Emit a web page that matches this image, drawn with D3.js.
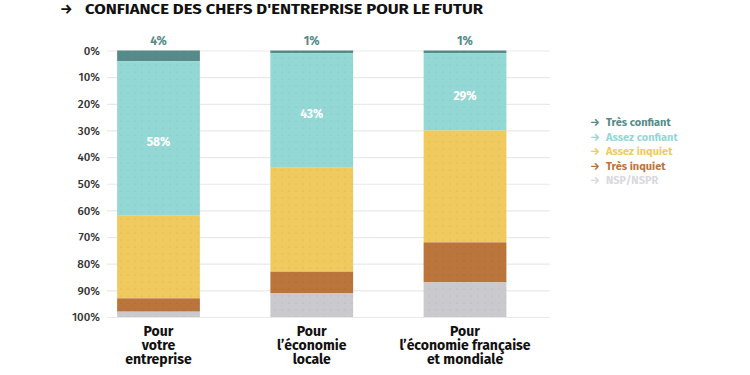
<!DOCTYPE html>
<html><head><meta charset="utf-8">
<script src="https://cdn.jsdelivr.net/npm/d3@7"></script>
<style>body{margin:0;background:#fff}svg{display:block}</style>
</head><body>
<svg id="c" width="750" height="375"></svg>
<script>
const categories = [["Pour","votre","entreprise"],["Pour","l’économie","locale"],["Pour","l’économie française","et mondiale"]];
const seriesNames = ["Très confiant","Assez confiant","Assez inquiet","Très inquiet","NSP/NSPR"];
const tresConfiant = [4, 1, 1];
const assezConfiant = [58, 43, 29];
const assezInquiet = [31, 39, 42];
const tresInquiet = [5, 8, 15];
const nsp = [2, 9, 13];
const yTicks = [0,10,20,30,40,50,60,70,80,90,100];
const colors = ["#568b89","#94d8d5","#f0ca5f","#b9753c","#c9c9ce"];
const legendColors = ["#568b89","#94d8d5","#f0ca5f","#b9753c","#d9d9dd"];

const svg = d3.select("#c");
const font = "'Fira Sans','Open Sans','Noto Sans',sans-serif";
const y = d3.scaleLinear().domain([0,100]).range([50.5,317]);
const x = d3.scalePoint().domain(d3.range(categories.length)).range([158.5,465]);
const bw = x.step()*0.54;

// title
svg.append("text").attr("x",60).attr("y",13.5).attr("font-family",font).attr("font-weight",700)
  .attr("font-size",14).attr("fill","#111").text("→");
svg.append("text").attr("x",85).attr("y",13.5).attr("font-family",font).attr("font-weight",700)
  .attr("font-size",14).attr("fill","#111").attr("textLength",398).attr("lengthAdjust","spacingAndGlyphs")
  .text("CONFIANCE DES CHEFS D'ENTREPRISE POUR LE FUTUR");

// grid + axis
const ax = svg.append("g").attr("transform","translate(107,0)")
  .call(d3.axisLeft(y).tickValues(yTicks).tickSize(-443).tickFormat(d=>d+"%"));
ax.select(".domain").remove();
ax.selectAll(".tick line").attr("stroke","#e9e9e9").attr("stroke-width",1.2);
ax.selectAll(".tick text").attr("x",-7).attr("font-family",font).attr("font-size",11.5)
  .attr("font-weight",500).attr("fill","#333");

// pattern
const defs = svg.append("defs");
const pat = defs.append("pattern").attr("id","dots").attr("width",7).attr("height",7).attr("patternUnits","userSpaceOnUse");
pat.append("circle").attr("cx",2).attr("cy",2).attr("r",0.6).attr("fill","#000").attr("opacity",0.12);

const data = categories.map((c,i)=>({i, v:[tresConfiant[i],assezConfiant[i],assezInquiet[i],tresInquiet[i],nsp[i]]}));
data.forEach(d=>{
  let cum = 0;
  const g = svg.append("g");
  d.v.forEach((v,k)=>{
    const y0 = y(cum), y1 = y(cum+v);
    g.append("rect").attr("x",x(d.i)-bw/2).attr("y",y0).attr("width",bw).attr("height",y1-y0).attr("fill",colors[k]);
    g.append("rect").attr("x",x(d.i)-bw/2).attr("y",y0).attr("width",bw).attr("height",y1-y0).attr("fill","url(#dots)");
    if(k===1){
      g.append("text").attr("x",x(d.i)).attr("y",(y0+y1)/2+8).attr("text-anchor","middle")
        .attr("font-family",font).attr("font-weight",700).attr("font-size",12).attr("fill","#fff").text(v+"%");
    }
    cum += v;
  });
  g.append("text").attr("x",x(d.i)).attr("y",y(0)-6).attr("text-anchor","middle")
    .attr("font-family",font).attr("font-weight",700).attr("font-size",12).attr("fill",colors[0]).text(d.v[0]+"%");
  const lbl = g.append("text").attr("x",x(d.i)).attr("y",335.5).attr("text-anchor","middle")
    .attr("font-family",font).attr("font-weight",700).attr("font-size",14).attr("fill","#111");
  categories[d.i].forEach((line,j)=>{
    lbl.append("tspan").attr("x",x(d.i)).attr("dy",j===0?0:14).text(line);
  });
});

// legend
seriesNames.forEach((n,k)=>{
  const ly = 126 + k*14.5;
  svg.append("text").attr("x",590).attr("y",ly).attr("font-family",font).attr("font-weight",700)
    .attr("font-size",11).attr("fill",legendColors[k]).text("→");
  svg.append("text").attr("x",606).attr("y",ly).attr("font-family",font).attr("font-weight",700)
    .attr("font-size",11).attr("fill",legendColors[k]).text(n);
});
</script>
</body></html>
